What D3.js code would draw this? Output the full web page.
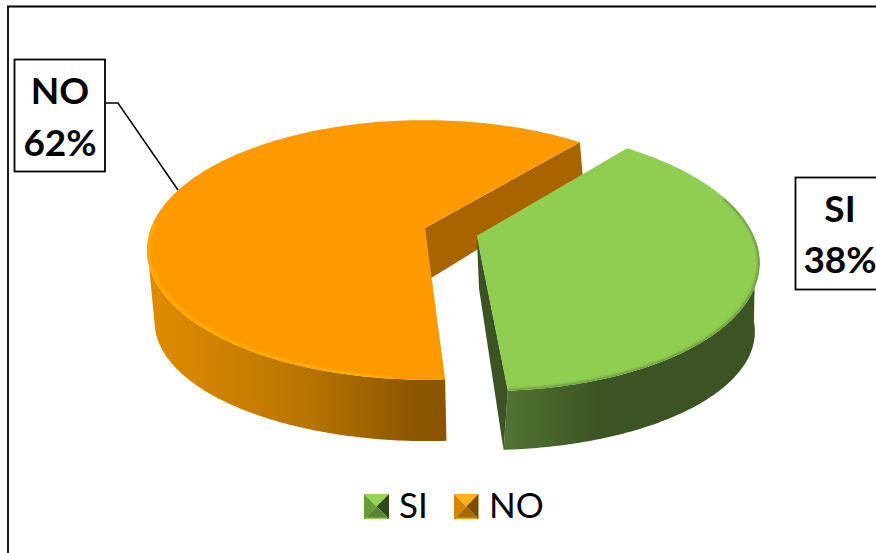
<!DOCTYPE html>
<html><head><meta charset="utf-8">
<script src="https://cdn.jsdelivr.net/npm/d3@7/dist/d3.min.js"></script>
<style>html,body{margin:0;background:#fff;overflow:hidden}svg{display:block}text{font-family:Lato,"Open Sans",sans-serif;fill:#000}</style>
</head><body><svg id="c" width="876" height="553"></svg>
<script>
const categories=["SI","NO"];
const values=[38,62];
const percentLabels=["38%","62%"];
const explode=[0.197,0];
const topColors=["#8fce50","#fe9a00"];
const faceColors=["#3c5423","#a86400"];

const deg=Math.PI/180;
const svg=d3.select("#c");
const defs=svg.append("defs");
const topP={cx:425,cy:228,ax:274,ay:126,k:0.169};
const botP={cx:428,cy:280,ax:270,ay:138,k:0.142};
const rimP={cx:428,cy:310,ax:272,ay:118,k:0.1};
const project=(p,u,v)=>{const d=1-p.k*v;return [p.cx+p.ax*u/d,p.cy+p.ay*v/d];};

const pie=d3.pie().sort(null).startAngle(39.7*deg).endAngle(399.7*deg);
const slices=pie(values);

const wallStops=[
 [[505,"#527433"],[600,"#3c5423"],[760,"#3c5423"]],
 [[150,"#e08c00"],[300,"#bb7600"],[415,"#8c5700"],[445,"#8a5500"]]];
wallStops.forEach((st,i)=>{
  const g=defs.append("linearGradient").attr("id","wall"+i).attr("gradientUnits","userSpaceOnUse")
   .attr("x1",st[0][0]).attr("x2",st[st.length-1][0]).attr("y1",0).attr("y2",0);
  st.forEach(s=>g.append("stop").attr("offset",(s[0]-st[0][0])/(st[st.length-1][0]-st[0][0])).attr("stop-color",s[1]));
});
defs.append("filter").attr("id","soft").attr("x","-10%").attr("y","-10%").attr("width","120%").attr("height","120%")
 .append("feGaussianBlur").attr("stdDeviation",1);

const line=d3.line();
const ring=(p,off,a0,a1,r=1)=>d3.range(0,121).map(i=>{
  const a=a0+(a1-a0)*i/120;
  return project(p,off[0]+r*Math.sin(a),off[1]-r*Math.cos(a));
});

[1,0].forEach(i=>{
  const s=slices[i], mid=(s.startAngle+s.endAngle)/2;
  const off=[explode[i]*Math.sin(mid),-explode[i]*Math.cos(mid)];
  const a0=s.startAngle,a1=s.endAngle;
  const g=svg.append("g");
  const tRim=ring(topP,off,a0,a1);
  const tA=project(topP,off[0],off[1]), bA=project(botP,off[0],off[1]);
  // visible part of the outer wall
  const wa0=i===0?92*deg:a0, wa1=i===0?a1:262*deg;
  g.append("path").attr("d",line([...ring(topP,off,wa0,wa1),...ring(rimP,off,wa0,wa1).reverse()])+"Z").attr("fill",`url(#wall${i})`);
  // cut face behind the top surface
  const e=tRim.length-1;
  const faceEnd=i===0?ring(rimP,off,a0,a1)[e]:ring(botP,off,a0,a1)[e];
  g.append("path").attr("d",line([tA,tRim[e],faceEnd,bA])+"Z").attr("fill",faceColors[i]);
  // top surface
  const topPath=line([tA,...tRim])+"Z";
  g.append("clipPath").attr("id","clip"+i).append("path").attr("d",topPath);
  g.append("path").attr("d",topPath).attr("fill",topColors[i]);
  // bevel
  const bev=g.append("g").attr("clip-path",`url(#clip${i})`);
  if(i===1){
    bev.append("path").attr("d",line(ring(topP,off,186*deg,272*deg,0.993))).attr("fill","none")
      .attr("stroke","#ffb000").attr("stroke-width",2.5).attr("filter","url(#soft)");
  } else {
    bev.append("path").attr("d",line(ring(topP,off,72*deg,a1,0.998))).attr("fill","none")
      .attr("stroke","#6f9a42").attr("stroke-width",3).attr("filter","url(#soft)");
  }
});

// frame
svg.append("path").attr("d","M876,6.5H8V553").attr("fill","none").attr("stroke","#000").attr("stroke-width",1.8);

// leader
svg.append("path").attr("d","M105,103H118L178,190").attr("fill","none").attr("stroke","#000").attr("stroke-width",1.5);

// data label boxes
const labelLayout=[
 {x:795.5,y:177.5,w:100,h:112,cx:840,b1:222,b2:273},
 {x:14.5,y:59.5,w:90.5,h:112,cx:60,b1:104,b2:156}];
categories.forEach((c,i)=>{
  const l=labelLayout[i];
  svg.append("rect").attr("x",l.x).attr("y",l.y).attr("width",l.w).attr("height",l.h)
    .attr("fill","#fff").attr("stroke","#000").attr("stroke-width",1.8);
  [[c,l.b1],[percentLabels[i],l.b2]].forEach(t=>{
    svg.append("text").attr("x",l.cx).attr("y",t[1]).attr("text-anchor","middle")
      .attr("font-size",37).attr("font-weight",700).text(t[0]);
  });
});

// legend
const swatchShades=[
 {t:"#93d455",l:"#659c38",r:"#2e4a18",b:"#5a8633",e:"#8fce50"},
 {t:"#ffb11c",l:"#d98400",r:"#7c4c00",b:"#a86a08",e:"#ffa500"}];
const legendX=[364,454], legendTextX=[399,489];
categories.forEach((c,i)=>{
  const x=legendX[i],y=494,w=i?24.5:25,h=25,cx=x+w/2,cy=y+h/2,sh=swatchShades[i];
  const g=svg.append("g");
  const tri=(a,b,f)=>g.append("path").attr("d",line([a,b,[cx,cy]])+"Z").attr("fill",f);
  tri([x,y],[x+w,y],sh.t);
  tri([x,y],[x,y+h],sh.l);
  tri([x+w,y],[x+w,y+h],sh.r);
  tri([x,y+h],[x+w,y+h],sh.b);
  g.append("path").attr("d",line([[x+2,y+h-0.7],[x+w-2,y+h-0.7]])).attr("stroke",sh.e).attr("stroke-width",1.4);
  svg.append("text").attr("x",legendTextX[i]).attr("y",518).attr("font-size",35).text(c);
});
</script></body></html>
